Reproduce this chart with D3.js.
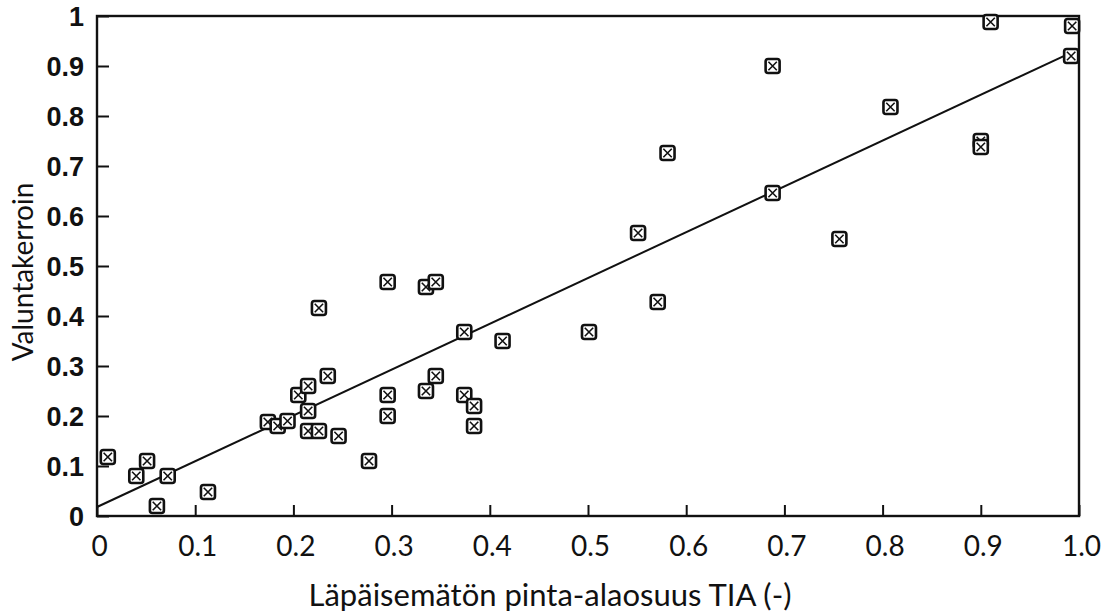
<!DOCTYPE html>
<html>
<head>
<meta charset="utf-8">
<script src="https://cdn.jsdelivr.net/npm/d3@7"></script>
<style>
  body { margin: 0; background: #fff; }
  svg { display: block; }
</style>
</head>
<body>
<svg id="chart"></svg>
<script>
// impervious area fraction (TIA) vs runoff coefficient
const tia = [0.011, 0.04, 0.051, 0.061, 0.072, 0.113, 0.174, 0.184, 0.194, 0.205,
    0.215, 0.215, 0.215, 0.226, 0.226, 0.235, 0.246, 0.277, 0.296, 0.296,
    0.296, 0.335, 0.345, 0.335, 0.345, 0.374, 0.374, 0.384, 0.384, 0.413,
    0.501, 0.551, 0.571, 0.581, 0.688, 0.688, 0.756, 0.808, 0.9, 0.9,
    0.91, 0.993, 0.992];
const runoff = [0.118, 0.08, 0.11, 0.02, 0.08, 0.048, 0.188, 0.18, 0.19, 0.242,
    0.26, 0.21, 0.17, 0.17, 0.416, 0.28, 0.16, 0.11, 0.468, 0.242,
    0.2, 0.458, 0.468, 0.25, 0.28, 0.368, 0.242, 0.22, 0.18, 0.35,
    0.368, 0.566, 0.428, 0.726, 0.9, 0.646, 0.554, 0.818, 0.75, 0.738,
    0.988, 0.98, 0.92];
const xTicks = [0, 0.1, 0.2, 0.3, 0.4, 0.5, 0.6, 0.7, 0.8, 0.9, 1.0];
const xTickLabels = ['0', '0.1', '0.2', '0.3', '0.4', '0.5', '0.6', '0.7', '0.8', '0.9', '1.0'];
const yTicks = [0, 0.1, 0.2, 0.3, 0.4, 0.5, 0.6, 0.7, 0.8, 0.9, 1];
const yTickLabels = ['0', '0.1', '0.2', '0.3', '0.4', '0.5', '0.6', '0.7', '0.8', '0.9', '1'];
// fitted line: runoff = intercept + slope * tia
const fitIntercept = 0.018;
const fitSlope = 0.916;
const fitRange = [0, 0.985];

const width = 1105, height = 614;
const margin = {left: 97, right: 26, top: 16, bottom: 98};
const svg = d3.select('#chart').attr('width', width).attr('height', height);

let x = d3.scaleLinear().domain([0, 1]).range([margin.left, width - margin.right]);
let y = d3.scaleLinear().domain([0, 1]).range([height - margin.bottom, margin.top]);

// frame
svg.append('rect')
    .attr('x', x(0)).attr('y', y(1))
    .attr('width', x(1) - x(0)).attr('height', y(0) - y(1))
    .attr('fill', 'none').attr('stroke', '#111').attr('stroke-width', 2.4);

// x axis: inward ticks, labels below
let xAxis = d3.axisBottom(x).tickValues(xTicks).tickSize(-11).tickFormat((d, i) => xTickLabels[i]);
let gx = svg.append('g').attr('transform', 'translate(0,' + y(0) + ')').call(xAxis);
gx.select('.domain').remove();
gx.selectAll('line').attr('stroke', '#111').attr('stroke-width', 2);
gx.selectAll('text')
    .attr('y', 40).attr('dy', 0).attr('dx', 2)
    .style('font-family', 'Lato, sans-serif').style('font-size', '28px').attr('fill', '#111');

// y axis: inward ticks, bold labels
let yAxis = d3.axisLeft(y).tickValues(yTicks).tickSize(-12).tickFormat((d, i) => yTickLabels[i]);
let gy = svg.append('g').attr('transform', 'translate(' + x(0) + ',0)').call(yAxis);
gy.select('.domain').remove();
gy.selectAll('line').attr('stroke', '#111').attr('stroke-width', 2);
gy.selectAll('text')
    .attr('x', -13).attr('dy', '0.36em')
    .style('font-family', '"Liberation Sans", Arial, sans-serif')
    .style('font-weight', 'bold').style('font-size', '27px').attr('fill', '#111');

// regression line
svg.append('line')
    .attr('x1', x(fitRange[0])).attr('y1', y(fitIntercept + fitSlope * fitRange[0]))
    .attr('x2', x(fitRange[1])).attr('y2', y(fitIntercept + fitSlope * fitRange[1]))
    .attr('stroke', '#111').attr('stroke-width', 2);

// markers: square with a cross
const points = tia.map((t, i) => ({tia: t, runoff: runoff[i]}));
const s = 7;
let marks = svg.append('g').selectAll('g')
    .data(points)
    .enter()
    .append('g')
    .attr('transform', d => 'translate(' + x(d.tia) + ',' + y(d.runoff) + ')');
marks.append('rect')
    .attr('x', -s).attr('y', -s).attr('width', 2 * s).attr('height', 2 * s)
    .attr('rx', 2.5).attr('fill', '#fff').attr('stroke', '#111').attr('stroke-width', 2.6);
marks.append('path')
    .attr('d', 'M-4.2,-4.2L4.2,4.2M4.2,-4.2L-4.2,4.2')
    .attr('stroke', '#111').attr('stroke-width', 1.6);

// axis titles
svg.append('text')
    .attr('x', 550).attr('y', 606)
    .attr('text-anchor', 'middle')
    .style('font-family', 'Lato, sans-serif').style('font-size', '31px').attr('fill', '#111')
    .text('Läpäisemätön pinta-alaosuus TIA (-)');

svg.append('text')
    .attr('transform', 'translate(33,272) rotate(-90)')
    .attr('text-anchor', 'middle')
    .style('font-family', 'Lato, sans-serif').style('font-size', '28px').attr('fill', '#111')
    .text('Valuntakerroin');
</script>
</body>
</html>
